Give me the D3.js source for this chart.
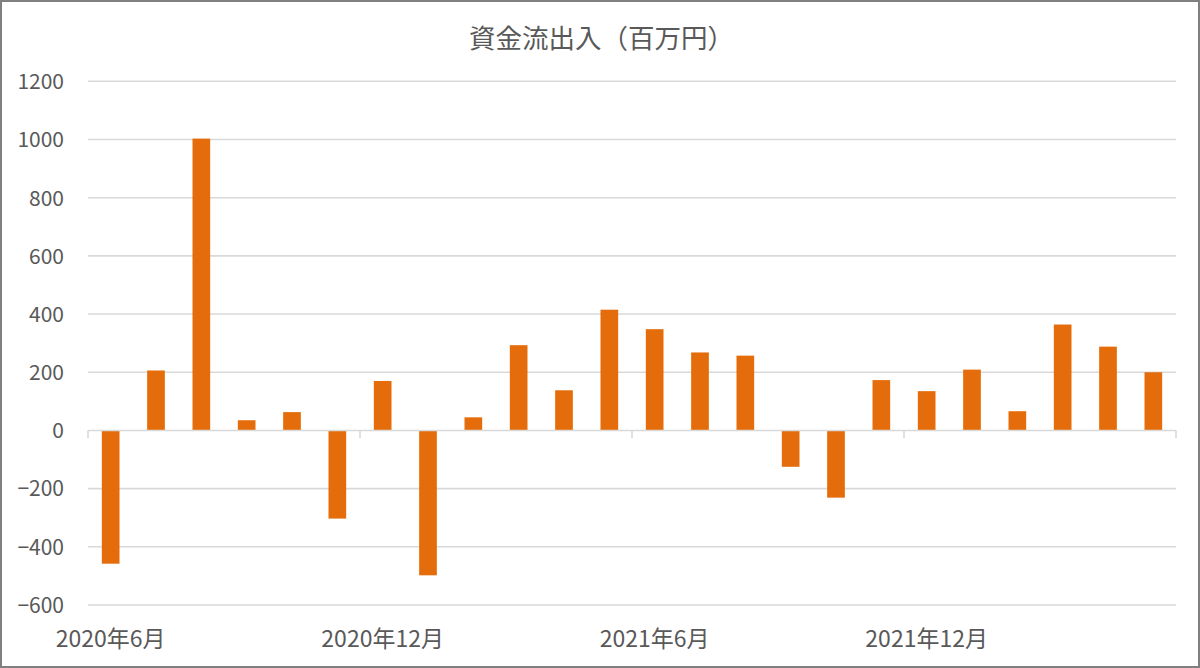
<!DOCTYPE html>
<html>
<head>
<meta charset="utf-8">
<script src="https://cdn.jsdelivr.net/npm/d3@7"></script>
<style>
  html, body { margin: 0; padding: 0; background: #fff; }
  svg { display: block; }
  text { font-family: "Noto Sans CJK JP", "Noto Sans", sans-serif; fill: #595959; }
</style>
</head>
<body>
<svg id="chart" width="1200" height="668"></svg>
<script>
// ---- data ----
const months = [
  "2020-06","2020-07","2020-08","2020-09","2020-10","2020-11",
  "2020-12","2021-01","2021-02","2021-03","2021-04","2021-05",
  "2021-06","2021-07","2021-08","2021-09","2021-10","2021-11",
  "2021-12","2022-01","2022-02","2022-03","2022-04","2022-05"
];
const flows = [
  -458, 206, 1003, 35, 63, -303,
  170, -498, 45, 293, 138, 415,
  348, 268, 257, -125, -231, 173,
  135, 209, 66, 364, 288, 200
];
const yTicks = [-600, -400, -200, 0, 200, 400, 600, 800, 1000, 1200];
const xLabelMonths = ["2020-06", "2020-12", "2021-06", "2021-12"];
const xLabelTexts = ["2020年6月", "2020年12月", "2021年6月", "2021年12月"];
const title = "資金流出入（百万円）";

// ---- layout ----
const svg = d3.select("#chart");
const W = 1200, H = 668;
const plotL = 88, plotR = 1176, plotT = 81.3, plotB = 605;

svg.append("rect").attr("x", 1).attr("y", 1).attr("width", W - 2).attr("height", H - 2)
  .attr("fill", "#fff").attr("stroke", "#808080").attr("stroke-width", 2);

const x = d3.scaleBand().domain(months).range([plotL, plotR])
  .paddingInner(0.61).paddingOuter(0.305);
const y = d3.scaleLinear().domain([-600, 1200]).range([plotB, plotT]);

// gridlines
svg.append("g").selectAll("line").data(yTicks.filter(d => d !== 0)).join("line")
  .attr("x1", plotL).attr("x2", plotR)
  .attr("y1", d => y(d)).attr("y2", d => y(d))
  .attr("stroke", "#d9d9d9").attr("stroke-width", 1.6);

// y labels
const yAxis = d3.axisLeft(y).tickValues(yTicks).tickSize(0).tickPadding(0).tickFormat(d3.format("d"));
const gy = svg.append("g").attr("transform", "translate(64,0)").call(yAxis);
gy.select(".domain").remove();
gy.selectAll("text").attr("font-size", 21).attr("fill", "#595959")
  .style("font-family", '"Noto Sans CJK JP", "Noto Sans", sans-serif')
  .attr("dy", "0.35em");

// bars
svg.append("g").selectAll("rect").data(months).join("rect")
  .attr("x", (m) => x(m))
  .attr("width", x.bandwidth())
  .attr("y", (m, i) => y(Math.max(0, flows[i])))
  .attr("height", (m, i) => Math.abs(y(flows[i]) - y(0)))
  .attr("fill", "#e46c0a");

// zero axis line with ticks at 6-month boundaries
const step = x.step();
const tickPos = xLabelMonths.map(m => x(m) - (step - x.bandwidth()) / 2).concat([plotR]);
svg.append("line").attr("x1", plotL).attr("x2", plotR).attr("y1", y(0)).attr("y2", y(0))
  .attr("stroke", "#d9d9d9").attr("stroke-width", 1.6);
svg.append("g").selectAll("line").data(tickPos).join("line")
  .attr("x1", d => d).attr("x2", d => d)
  .attr("y1", y(0)).attr("y2", y(0) + 7.5)
  .attr("stroke", "#d9d9d9").attr("stroke-width", 1.6);

// x labels
svg.append("g").selectAll("text").data(xLabelMonths).join("text")
  .attr("x", m => x(m) + x.bandwidth() / 2)
  .attr("y", 647)
  .attr("text-anchor", "middle")
  .attr("font-size", 23)
  .text((m, i) => xLabelTexts[i]);

// title
svg.append("text").attr("x", 469).attr("y", 48)
  .attr("font-size", 26.5).attr("text-anchor", "start")
  .text(title);
</script>
</body>
</html>
